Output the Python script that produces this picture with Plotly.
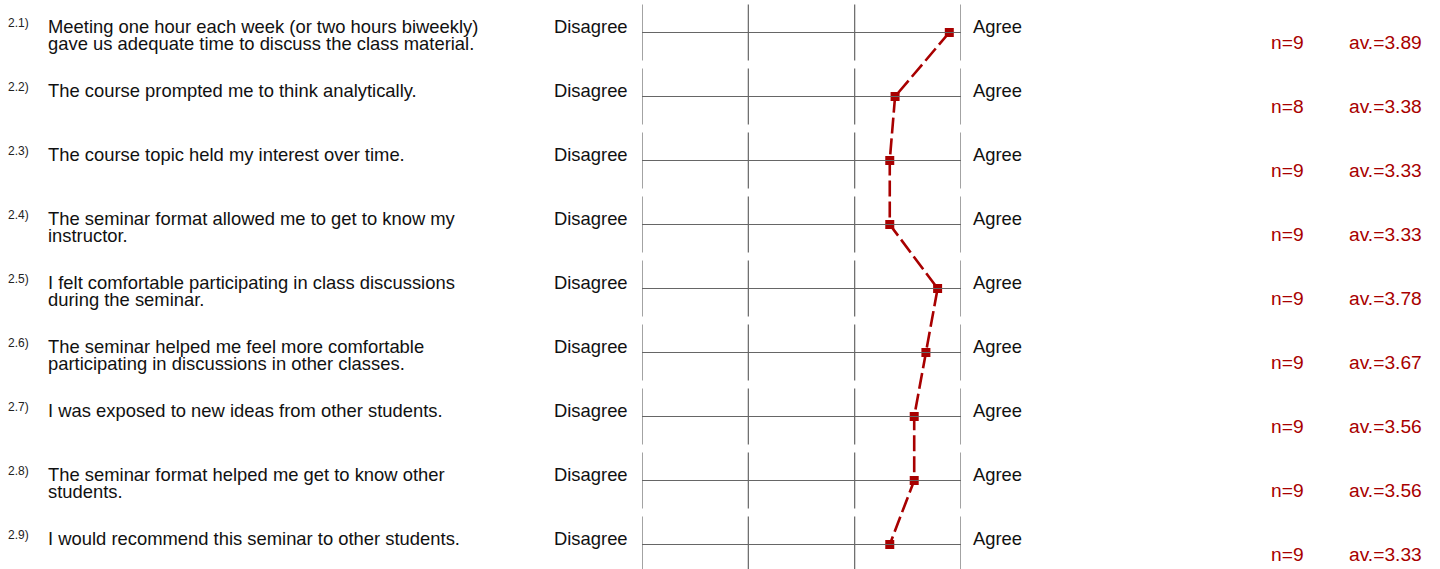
import plotly.graph_objects as go

# ---- data ----
item_ids = ["2.1)", "2.2)", "2.3)", "2.4)", "2.5)", "2.6)", "2.7)", "2.8)", "2.9)"]
item_lines = [
    ["Meeting one hour each week (or two hours biweekly)", "gave us adequate time to discuss the class material."],
    ["The course prompted me to think analytically."],
    ["The course topic held my interest over time."],
    ["The seminar format allowed me to get to know my", "instructor."],
    ["I felt comfortable participating in class discussions", "during the seminar."],
    ["The seminar helped me feel more comfortable", "participating in discussions in other classes."],
    ["I was exposed to new ideas from other students."],
    ["The seminar format helped me get to know other", "students."],
    ["I would recommend this seminar to other students."],
]
n_values = [9, 8, 9, 9, 9, 9, 9, 9, 9]
averages = [3.89, 3.38, 3.33, 3.33, 3.78, 3.67, 3.56, 3.56, 3.33]
scale_ticks = [1, 2, 3, 4]
left_label = "Disagree"
right_label = "Agree"

# ---- layout constants ----
W, H = 1440, 569
ML, MR = 641.5, 478.5
PLOT_W = W - ML - MR
ROW_PX = 64.0
ROW0_PX = 32.5
FONT = "Liberation Sans, Arial, sans-serif"
FS = 18.4
FS_SMALL = 12
FS_STAT = 19.2
RED = "#a80000"
GRID = "#666666"

def px2paper(px):
    return (px - ML) / PLOT_W

rows = list(range(len(averages)))
y_top = -ROW0_PX / ROW_PX
y_bot = (H - ROW0_PX) / ROW_PX

fig = go.Figure()

shapes = []
half = 28.0 / ROW_PX
for r in rows:
    shapes.append(dict(type="line", xref="x", yref="y", x0=scale_ticks[0], x1=scale_ticks[-1],
                       y0=r, y1=r, line=dict(color=GRID, width=1.2)))
    for t in scale_ticks:
        shapes.append(dict(type="line", xref="x", yref="y", x0=t, x1=t,
                           y0=r - half, y1=r + half, line=dict(color=GRID, width=1.2)))

fig.add_trace(go.Scatter(
    x=averages, y=rows, mode="lines+markers",
    line=dict(color=RED, width=2.6, dash="16px,5px"),
    marker=dict(symbol="square", size=9, color=RED, line=dict(width=0)),
    hoverinfo="skip", showlegend=False, cliponaxis=False,
))

ann = []
def off(baseline_off, s):
    # yshift so that the text baseline sits baseline_off px below the row centre
    return -(baseline_off - 0.35 * s)

for r in rows:
    ann.append(dict(x=px2paper(4.5), xref="paper", y=r, yref="y", xanchor="left", yanchor="middle",
                    text=item_ids[r], showarrow=False, borderpad=0,
                    font=dict(family=FONT, size=FS_SMALL, color="#222222"),
                    yshift=off(-5.5, FS_SMALL)))
    for k, line in enumerate(item_lines[r]):
        ann.append(dict(x=px2paper(44.5), xref="paper", y=r, yref="y", xanchor="left", yanchor="middle",
                        text=line, showarrow=False, borderpad=0,
                        font=dict(family=FONT, size=FS, color="#111111"),
                        yshift=off(0 + 17.7 * k, FS)))
    ann.append(dict(x=px2paper(628), xref="paper", y=r, yref="y", xanchor="right", yanchor="middle",
                    text=left_label, showarrow=False, borderpad=0,
                    font=dict(family=FONT, size=FS, color="#111111"), yshift=off(0.8, FS)))
    ann.append(dict(x=px2paper(973), xref="paper", y=r, yref="y", xanchor="left", yanchor="middle",
                    text=right_label, showarrow=False, borderpad=0,
                    font=dict(family=FONT, size=FS, color="#111111"), yshift=off(0.8, FS)))
    ann.append(dict(x=px2paper(1271.5), xref="paper", y=r, yref="y", xanchor="left", yanchor="middle",
                    text=f"n={n_values[r]}", showarrow=False, borderpad=0,
                    font=dict(family=FONT, size=FS_STAT, color=RED), yshift=off(17, FS_STAT)))
    ann.append(dict(x=px2paper(1349.5), xref="paper", y=r, yref="y", xanchor="left", yanchor="middle",
                    text=f"av.={averages[r]:.2f}", showarrow=False, borderpad=0,
                    font=dict(family=FONT, size=FS_STAT, color=RED), yshift=off(17, FS_STAT)))

fig.update_layout(
    width=W, height=H, autosize=False,
    margin=dict(l=ML, r=MR, t=0, b=0, pad=0),
    paper_bgcolor="white", plot_bgcolor="white",
    xaxis=dict(range=[scale_ticks[0], scale_ticks[-1]], visible=False, fixedrange=True),
    yaxis=dict(range=[y_bot, y_top], visible=False, fixedrange=True),
    shapes=shapes, annotations=ann, showlegend=False,
)

fig.write_html("out.html", config={"displayModeBar": False},
               post_script="document.body.style.margin='0px';document.body.style.overflow='hidden';")
